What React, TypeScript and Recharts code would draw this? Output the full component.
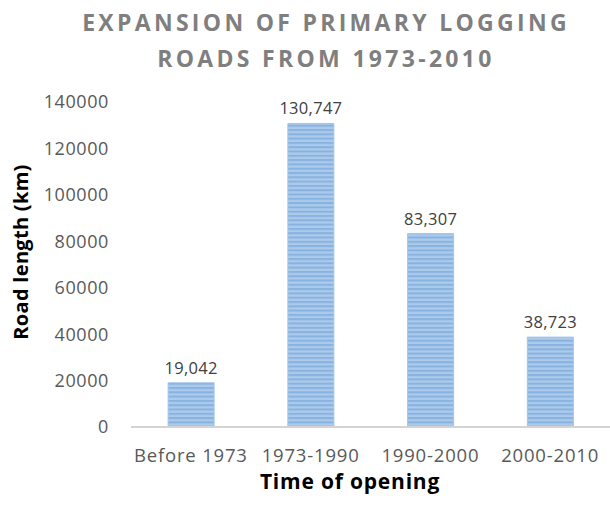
import React from 'react';
import { BarChart, Bar, XAxis, YAxis, LabelList } from 'recharts';

const categories = ['Before 1973', '1973-1990', '1990-2000', '2000-2010'];
const roadLength = [19042, 130747, 83307, 38723];
const yTicks = [0, 20000, 40000, 60000, 80000, 100000, 120000, 140000];

const data = categories.map((c, i) => ({ name: c, value: roadLength[i] }));

const FONT = '"Open Sans", Lato, sans-serif';

export default function App() {
  return (
    <div style={{ position: 'absolute', left: 0, top: 0, width: 610, height: 505, background: '#fff', fontFamily: FONT }}>
      <div style={{ position: 'absolute', left: 0, width: 652, top: 4, textAlign: 'center', color: '#7f7f7f', fontWeight: 700, fontSize: 23, letterSpacing: 3.3, lineHeight: '36px' }}>
        EXPANSION OF PRIMARY LOGGING<br />ROADS FROM 1973-2010
      </div>
      <div style={{ position: 'absolute', left: 20, top: 252, transform: 'translate(-50%, -50%) rotate(-90deg)', whiteSpace: 'nowrap', fontWeight: 700, fontSize: 20, color: '#000', letterSpacing: 0.3 }}>
        Road length (km)
      </div>
      <div style={{ position: 'absolute', left: 0, width: 700, top: 468, textAlign: 'center', fontWeight: 700, fontSize: 21, lineHeight: '26px', color: '#000', letterSpacing: 0.8 }}>
        Time of opening
      </div>
      <BarChart width={610} height={505} data={data} margin={{ top: 102, right: 0, bottom: 48, left: 0 }} barCategoryGap="31%">
        <defs>
          <pattern id="stripes" patternUnits="userSpaceOnUse" width="8" height="4.3">
            <rect x="0" y="0" width="8" height="4.3" fill="#acCbec" />
            <rect x="0" y="0" width="8" height="2" fill="#88b2df" />
          </pattern>
        </defs>
        <XAxis dataKey="name" height={30} axisLine={{ stroke: '#d4d4d4', strokeWidth: 2 }} tickLine={false} tickSize={0} tickMargin={22}
          tick={{ fontSize: 18.5, fill: '#595959', fontFamily: FONT, letterSpacing: 0.8 }} interval={0} />
        <YAxis domain={[0, 140000]} ticks={yTicks} width={131} axisLine={false} tickLine={false} tickSize={0} tickMargin={22}
          tick={{ fontSize: 18, fill: '#595959', fontFamily: FONT, letterSpacing: 0.6 }} />
        <Bar dataKey="value" fill="url(#stripes)" stroke="#a3c4ea" strokeWidth={1} isAnimationActive={false}>
          <LabelList dataKey="value" position="top" offset={9} formatter={(v: number) => v.toLocaleString('en-US')}
            style={{ fontSize: 16.5, fill: '#404040', fontFamily: FONT, letterSpacing: 0.3 }} />
        </Bar>
      </BarChart>
    </div>
  );
}
